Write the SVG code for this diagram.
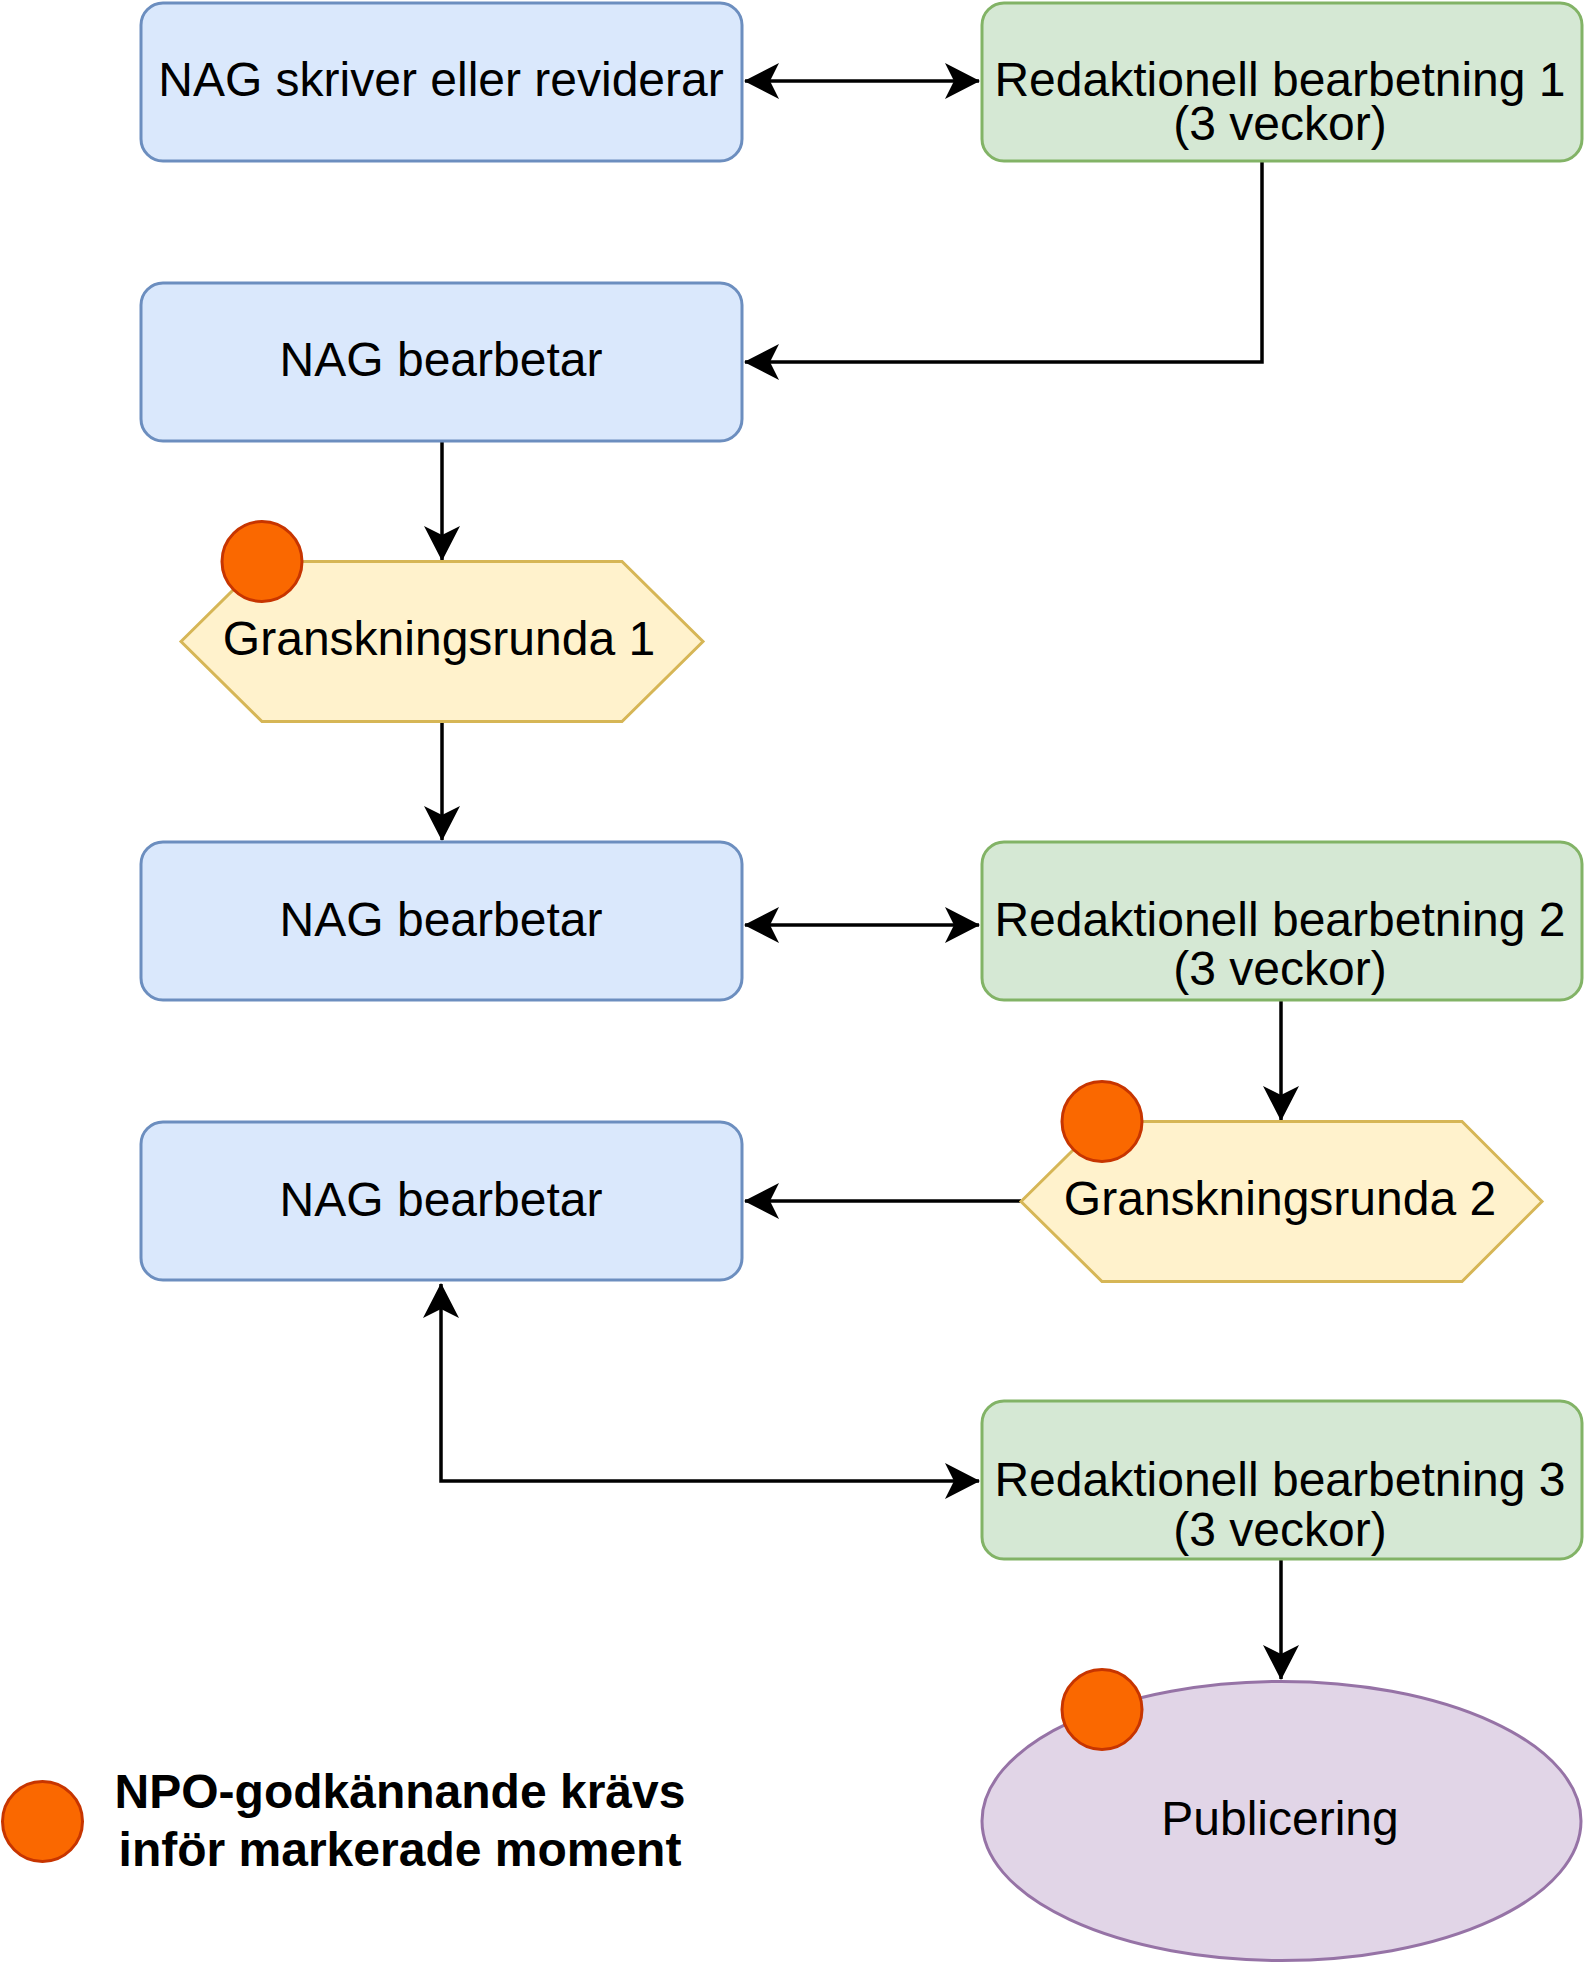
<svg xmlns="http://www.w3.org/2000/svg" width="1584" height="1964" viewBox="0 0 1584 1964">
  <style>
    .t { font-family: "Liberation Sans", Arial, sans-serif; font-size: 48px; fill: #000; text-anchor: middle; }
    .b { font-weight: bold; }
    .blue { fill: #dae8fc; stroke: #6c8ebf; stroke-width: 3; }
    .green { fill: #d5e8d4; stroke: #82b366; stroke-width: 3; }
    .yellow { fill: #fff2cc; stroke: #d6b656; stroke-width: 3; }
    .purple { fill: #e1d5e7; stroke: #9673a6; stroke-width: 3; }
    .dot { fill: #fa6800; stroke: #c73500; stroke-width: 3; }
    .edge { fill: none; stroke: #000; stroke-width: 3.5; }
  </style>
  <defs>
    <marker id="arr" viewBox="0 0 35 36" refX="34" refY="18" markerWidth="35" markerHeight="36" markerUnits="userSpaceOnUse" orient="auto-start-reverse">
      <path d="M35 18 L0 0 L9 18 L0 36 Z" fill="#000"/>
    </marker>
  </defs>

  <g id="connectors">
    <path class="edge" d="M745 81 L979 81" marker-start="url(#arr)" marker-end="url(#arr)"/>
    <path class="edge" d="M1262 161 L1262 362 L745 362" marker-end="url(#arr)"/>
    <path class="edge" d="M442 441 L442 560" marker-end="url(#arr)"/>
    <path class="edge" d="M442 722 L442 840" marker-end="url(#arr)"/>
    <path class="edge" d="M745 925 L979 925" marker-start="url(#arr)" marker-end="url(#arr)"/>
    <path class="edge" d="M1281 1001 L1281 1120" marker-end="url(#arr)"/>
    <path class="edge" d="M1021 1201 L745 1201" marker-end="url(#arr)"/>
    <path class="edge" d="M441 1284 L441 1481 L979 1481" marker-start="url(#arr)" marker-end="url(#arr)"/>
    <path class="edge" d="M1281 1560 L1281 1679" marker-end="url(#arr)"/>
  </g>

  <g id="node-nag-skriver">
    <rect class="blue" x="141" y="3" width="601" height="158" rx="22"/>
    <text class="t" x="441" y="96">NAG skriver eller reviderar</text>
  </g>
  <g id="node-red1">
    <rect class="green" x="982" y="3" width="600" height="158" rx="22"/>
    <text class="t" x="1280" y="96">Redaktionell bearbetning 1</text>
    <text class="t" x="1280" y="140">(3 veckor)</text>
  </g>
  <g id="node-nag-bearbetar-1">
    <rect class="blue" x="141" y="283" width="601" height="158" rx="22"/>
    <text class="t" x="441" y="376">NAG bearbetar</text>
  </g>
  <g id="node-gransk1">
    <polygon class="yellow" points="181,641.5 262,561.5 622,561.5 703,641.5 622,721.5 262,721.5"/>
    <text class="t" x="439" y="655">Granskningsrunda 1</text>
    <circle class="dot" cx="262" cy="561.5" r="40"/>
  </g>
  <g id="node-nag-bearbetar-2">
    <rect class="blue" x="141" y="842" width="601" height="158" rx="22"/>
    <text class="t" x="441" y="936">NAG bearbetar</text>
  </g>
  <g id="node-red2">
    <rect class="green" x="982" y="842" width="600" height="158" rx="22"/>
    <text class="t" x="1280" y="936">Redaktionell bearbetning 2</text>
    <text class="t" x="1280" y="985">(3 veckor)</text>
  </g>
  <g id="node-gransk2">
    <polygon class="yellow" points="1021,1201.5 1102,1121.5 1462,1121.5 1542,1201.5 1462,1281.5 1102,1281.5"/>
    <text class="t" x="1280" y="1215">Granskningsrunda 2</text>
    <circle class="dot" cx="1102" cy="1121.5" r="40"/>
  </g>
  <g id="node-nag-bearbetar-3">
    <rect class="blue" x="141" y="1122" width="601" height="158" rx="22"/>
    <text class="t" x="441" y="1216">NAG bearbetar</text>
  </g>
  <g id="node-red3">
    <rect class="green" x="982" y="1401" width="600" height="158" rx="22"/>
    <text class="t" x="1280" y="1496">Redaktionell bearbetning 3</text>
    <text class="t" x="1280" y="1546">(3 veckor)</text>
  </g>
  <g id="node-publicering">
    <ellipse class="purple" cx="1281.5" cy="1821" rx="299.5" ry="139.5"/>
    <text class="t" x="1280" y="1835">Publicering</text>
    <circle class="dot" cx="1102" cy="1709.5" r="40"/>
  </g>
  <g id="legend">
    <circle class="dot" cx="42.5" cy="1821.5" r="40"/>
    <text class="t b" x="400" y="1808">NPO-godkännande krävs</text>
    <text class="t b" x="400" y="1866">inför markerade moment</text>
  </g>
</svg>
